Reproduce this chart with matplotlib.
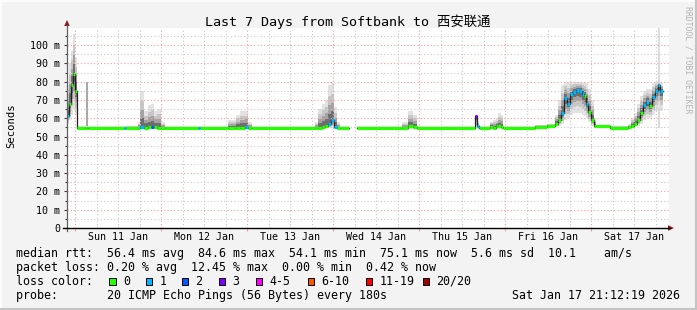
import numpy as np
import matplotlib
matplotlib.use('Agg')
import matplotlib.pyplot as plt
from matplotlib.patches import Rectangle, Polygon

W, H = 697, 310
MONO = 'DejaVu Sans Mono'

# ---- data: hours since Sun 11 Jan 00:00, one row per segment start ----
seg_t = [-2.32, -1.76, -1.20, -0.64, -0.08, 0.47, 2.99, 3.54, 13.6, 14.2,
         17.5, 18.1, 19.2, 20.3, 21.1, 22.0, 22.8, 23.9, 25.0, 34.3,
         34.8, 42.6, 44.8, 46.0, 47.4, 48.2, 49.3, 66.9, 67.7, 68.9,
         69.7, 70.6, 71.4, 72.3, 73.1, 74.0, 76.4, 78.7, 91.2, 92.8,
         94.2, 95.3, 111.6, 112.2, 112.7, 115.7, 116.5, 117.3, 118.1, 118.7,
         119.3, 128.3, 131.6, 133.9, 134.8, 135.6, 136.5, 137.3, 138.1, 139.0,
         139.8, 140.6, 141.5, 142.0, 142.6, 143.1, 144.0, 144.8, 145.3, 149.2,
         154.3, 155.1, 156.0, 156.8, 157.6, 158.5, 159.3, 160.2, 161.0, 161.8,
         162.7, 163.2]
t_end = 164.0
seg_med = [61.0, 67.8, 78.0, 84.0, 75.0, 54.5, 54.5, 54.5, 54.5, 54.5,
           54.6, 55.0, 54.8, 55.0, 55.0, 55.0, 54.9, 54.6, 54.5, 54.5,
           54.5, 54.6, 54.7, 54.8, 55.0, 54.6, 54.5, 54.6, 54.8, 55.0,
           56.0, 57.0, 59.0, 55.0, 54.6, 54.5, np.nan, 54.5, 54.6, 55.5,
           55.2, 54.5, 61.0, 56.0, 54.5, 55.4, 54.4, 55.5, 55.6, 55.0,
           54.5, 55.4, 55.7, 57.0, 59.0, 63.0, 71.0, 68.0, 73.0, 74.5,
           75.4, 75.0, 73.0, 72.0, 68.0, 63.5, 59.0, 55.6, 55.6, 54.9,
           55.0, 56.0, 57.0, 59.0, 63.0, 67.0, 69.0, 66.5, 71.5, 75.0,
           78.0, 75.0]
seg_lo = [57, 59, 62, 65, 62, 54.1, 54.1, 54.1, 54.1, 54.1,
          54.1, 54.2, 54.2, 54.2, 54.3, 54.2, 54.2, 54.1, 54.1, 54.1,
          54.1, 54.1, 54.2, 54.2, 54.3, 54.1, 54.1, 54.1, 54.2, 54.3,
          54.4, 54.5, 54.8, 54.3, 54.1, 54.1, np.nan, 54.1, 54.1, 54.3,
          54.2, 54.1, 54.5, 54.3, 54.1, 54.2, 54.1, 54.2, 54.3, 54.2,
          54.1, 54.8, 55.0, 55.2, 56, 57, 59, 60, 62, 63,
          63, 63, 62, 61, 60, 58, 56, 55, 55, 54.4,
          54.5, 54.5, 55, 56, 57, 59, 60, 60, 62, 64,
          66, 64]
seg_hi = [78, 90, 97, 106, 93, 55.5, 55.5, 55.5, 55.5, 56,
          58, 75, 64, 67, 68, 64, 65, 58, 55.5, 55.5,
          55.5, 59, 62, 64, 64, 58, 55.5, 58, 65, 68,
          70, 78, 79, 66, 58, 55.5, np.nan, 55.5, 58, 64,
          62, 55.5, 62, 58, 55.5, 58, 59, 60, 63, 62,
          55.5, 56.5, 57, 62, 70, 78, 80, 80, 80, 80,
          80, 80, 80, 80, 79, 76, 70, 60, 56.5, 56,
          57, 60, 63, 68, 72, 75, 76, 76, 79, 80,
          80, 79]
seg_loss = [1, 0, 0, 0, 0, 0, 0, 0, 1, 0,
            0, 1, 0, 0, 2, 0, 0, 0, 0, 1,
            0, 0, 0, 0, 1, 0, 0, 0, 0, 0,
            0, 1, 1, 1, 0, 0, 0, 0, 0, 0,
            0, 0, 3, 1, 0, 0, 0, 0, 0, 0,
            0, 0, 0, 0, 0, 1, 1, 1, 1, 1,
            1, 1, 1, 0, 1, 0, 0, 0, 0, 0,
            0, 0, 0, 0, 0, 1, 1, 0, 1, 1,
            1, 1]

# single slow pings drawn as thin columns
outlier_t = [2.99, 162.7]
outlier_end = [3.54, 163.2]
outlier_top = [80, 109.5]

yticks = [0, 10, 20, 30, 40, 50, 60, 70, 80, 90, 100]
ytick_labels = ['0', '10 m', '20 m', '30 m', '40 m', '50 m', '60 m', '70 m',
                '80 m', '90 m', '100 m']
day_midnights = [0, 24, 48, 72, 96, 120, 144]
day_labels = ['Sun 11 Jan', 'Mon 12 Jan', 'Tue 13 Jan', 'Wed 14 Jan',
              'Thu 15 Jan', 'Fri 16 Jan', 'Sat 17 Jan']

loss_labels = ['0', '1', '2', '3', '4-5', '6-10', '11-19', '20/20']
loss_colors = ['#26ff00', '#00b8ff', '#0059ff', '#7e00ff', '#ff00ff',
               '#ff5500', '#ff0000', '#a10000']

legend_rtt = "median rtt:  56.4 ms avg  84.6 ms max  54.1 ms min  75.1 ms now  5.6 ms sd  10.1    am/s"
legend_loss = "packet loss: 0.20 % avg  12.45 % max  0.00 % min  0.42 % now"
legend_probe = "probe:       20 ICMP Echo Pings (56 Bytes) every 180s"
legend_date = "Sat Jan 17 21:12:19 2026"
title = "Last 7 Days from Softbank to 西安联通"


def bucket(n):
    if n <= 3:
        return n
    if n <= 5:
        return 4
    if n <= 10:
        return 5
    if n <= 19:
        return 6
    return 7


# ---- figure ----
fig = plt.figure(figsize=(W / 100, H / 100), dpi=100, facecolor='#f3f3f3')

x0, x1 = 67, 669
y_top, y_bot = 27.7, 228
ax = fig.add_axes([x0 / W, (H - y_bot) / H, (x1 - x0) / W, (y_bot - y_top) / H])
ax.set_facecolor('white')
ax.set_xlim(-2.32, 165.7)
ax.set_ylim(0, 109.5)
for s in ax.spines.values():
    s.set_visible(False)

t = np.array(seg_t, dtype=float)
t_next = np.append(t[1:], t_end)
med = np.array(seg_med, dtype=float)
lo = np.array(seg_lo, dtype=float)
hi = np.array(seg_hi, dtype=float)
ok = ~np.isnan(med)

# outlier columns
ot = np.array(outlier_t)
ax.bar(ot, np.array(outlier_top) - 54.5, bottom=54.5,
       width=np.array(outlier_end) - ot, align='edge',
       color=['#a8a8a8', '#dcdcdc'], linewidth=0, zorder=1)

# smoke bands (nested, darker towards the median)
band_f = [1.0, 0.72, 0.48, 0.26]
band_c = ['#e2e2e2', '#c6c6c6', '#a2a2a2', '#6e6e6e']
for f, c in zip(band_f, band_c):
    up = med + (hi - med) * f
    dn = med - (med - lo) * f
    ax.bar(t[ok], (up - dn)[ok], bottom=dn[ok], width=(t_next - t)[ok],
           align='edge', color=c, linewidth=0, zorder=1)

# grid (drawn above smoke, as rrdtool does)
for h in np.arange(-24, 170, 6):
    if h % 24 == 0:
        ax.axvline(h, color='#f2a0a0', lw=0.8, ls=(0, (1, 2)), zorder=2)
    else:
        ax.axvline(h, color='#c8c8c8', lw=0.8, ls=(0, (1, 2)), zorder=2)
for v in range(5, 110, 5):
    if v % 10 == 0:
        ax.axhline(v, color='#f2a0a0', lw=0.8, ls=(0, (1, 2)), zorder=2)
    else:
        ax.axhline(v, color='#c8c8c8', lw=0.8, ls=(0, (1, 2)), zorder=2)

# median: thin dark step line + thick loss-coloured segments
step_t = np.append(t, t_end)
step_m = np.append(med, med[-1])
ax.plot(step_t, step_m, drawstyle='steps-post', color='#202020', lw=0.9, zorder=3)
cols = [loss_colors[bucket(n)] for n in seg_loss]
for i in np.where(ok)[0]:
    ax.hlines(med[i], t[i], t_next[i], colors=cols[i], lw=2.3, zorder=4,
              capstyle='butt')

# ticks
ax.set_yticks(yticks)
ax.set_yticklabels(ytick_labels, family=MONO, fontsize=7.2)
ax.set_yticks(list(range(5, 110, 10)), minor=True)
ax.tick_params(axis='y', which='major', length=2.2, width=0.8, color='#404040', pad=2.8)
ax.tick_params(axis='y', which='minor', length=1.2, width=0.8, color='#404040')
ax.set_xticks(day_midnights)
ax.set_xticklabels([''] * len(day_midnights))
ax.set_xticks([d + 12 for d in day_midnights], minor=True)
ax.set_xticklabels(day_labels, minor=True, family=MONO, fontsize=7.2)
ax.tick_params(axis='x', which='major', length=2.2, width=0.8, color='#f2a0a0')
ax.tick_params(axis='x', which='minor', length=0, pad=3.0)

# ---- overlay in pixel coordinates ----
ov = fig.add_axes([0, 0, 1, 1], zorder=5)
ov.set_xlim(0, W)
ov.set_ylim(H, 0)
ov.axis('off')
ov.patch.set_alpha(0)

# frame
ov.plot([0.5, W - 0.5], [0.5, 0.5], color='#ffffff', lw=1.2)
ov.plot([0.5, 0.5], [0.5, H - 0.5], color='#ffffff', lw=1.2)
ov.plot([0, W], [H - 1, H - 1], color='#c4c4c4', lw=1.5)
ov.plot([W - 1, W - 1], [0, H], color='#c4c4c4', lw=1.5)

# axis lines and arrows
ov.plot([x0, x0], [231, 25], color='#606060', lw=0.9)
ov.plot([63, 670], [y_bot, y_bot], color='#000000', lw=1.0)
ov.add_patch(Polygon([[64.2, 26], [69.8, 26], [67, 20]], closed=True,
                     color='#8b1a1a', lw=0))
ov.add_patch(Polygon([[668, 225.2], [668, 230.8], [674, 228]], closed=True,
                     color='#8b1a1a', lw=0))

# title & labels
ov.text(348, 22, title, ha='center', va='center', fontsize=9.6,
        family=[MONO, 'Noto Sans CJK SC'], color='#000000')
ov.text(11, 126, 'Seconds', rotation=90, ha='center', va='center',
        fontsize=7.6, family=MONO, color='#000000')
ov.text(688, 6, 'RRDTOOL / TOBI OETIKER', rotation=270, ha='center', va='top',
        fontsize=5.9, family=MONO, color='#b4b4b4')

# legend
lfs = 8.4
ov.text(16, 253.5, legend_rtt, ha='left', va='center', fontsize=lfs, family=MONO)
ov.text(16, 267.5, legend_loss, ha='left', va='center', fontsize=lfs, family=MONO)
ov.text(16, 281.5, 'loss color:', ha='left', va='center', fontsize=lfs, family=MONO)
box_x = [109.3, 145.7, 182.0, 218.7, 256.0, 307.7, 365.7, 422.7]
for bx, lab, c in zip(box_x, loss_labels, loss_colors):
    ov.add_patch(Rectangle((bx, 277.8), 6.2, 7.4, facecolor=c, edgecolor='#000000', lw=0.7))
    ov.text(bx + 13.6, 281.5, lab, ha='left', va='center', fontsize=lfs, family=MONO)
ov.text(16, 295.5, legend_probe, ha='left', va='center', fontsize=lfs, family=MONO)
ov.text(680, 295.5, legend_date, ha='right', va='center', fontsize=lfs, family=MONO)

fig.savefig('out.png', dpi=100, facecolor=fig.get_facecolor())
